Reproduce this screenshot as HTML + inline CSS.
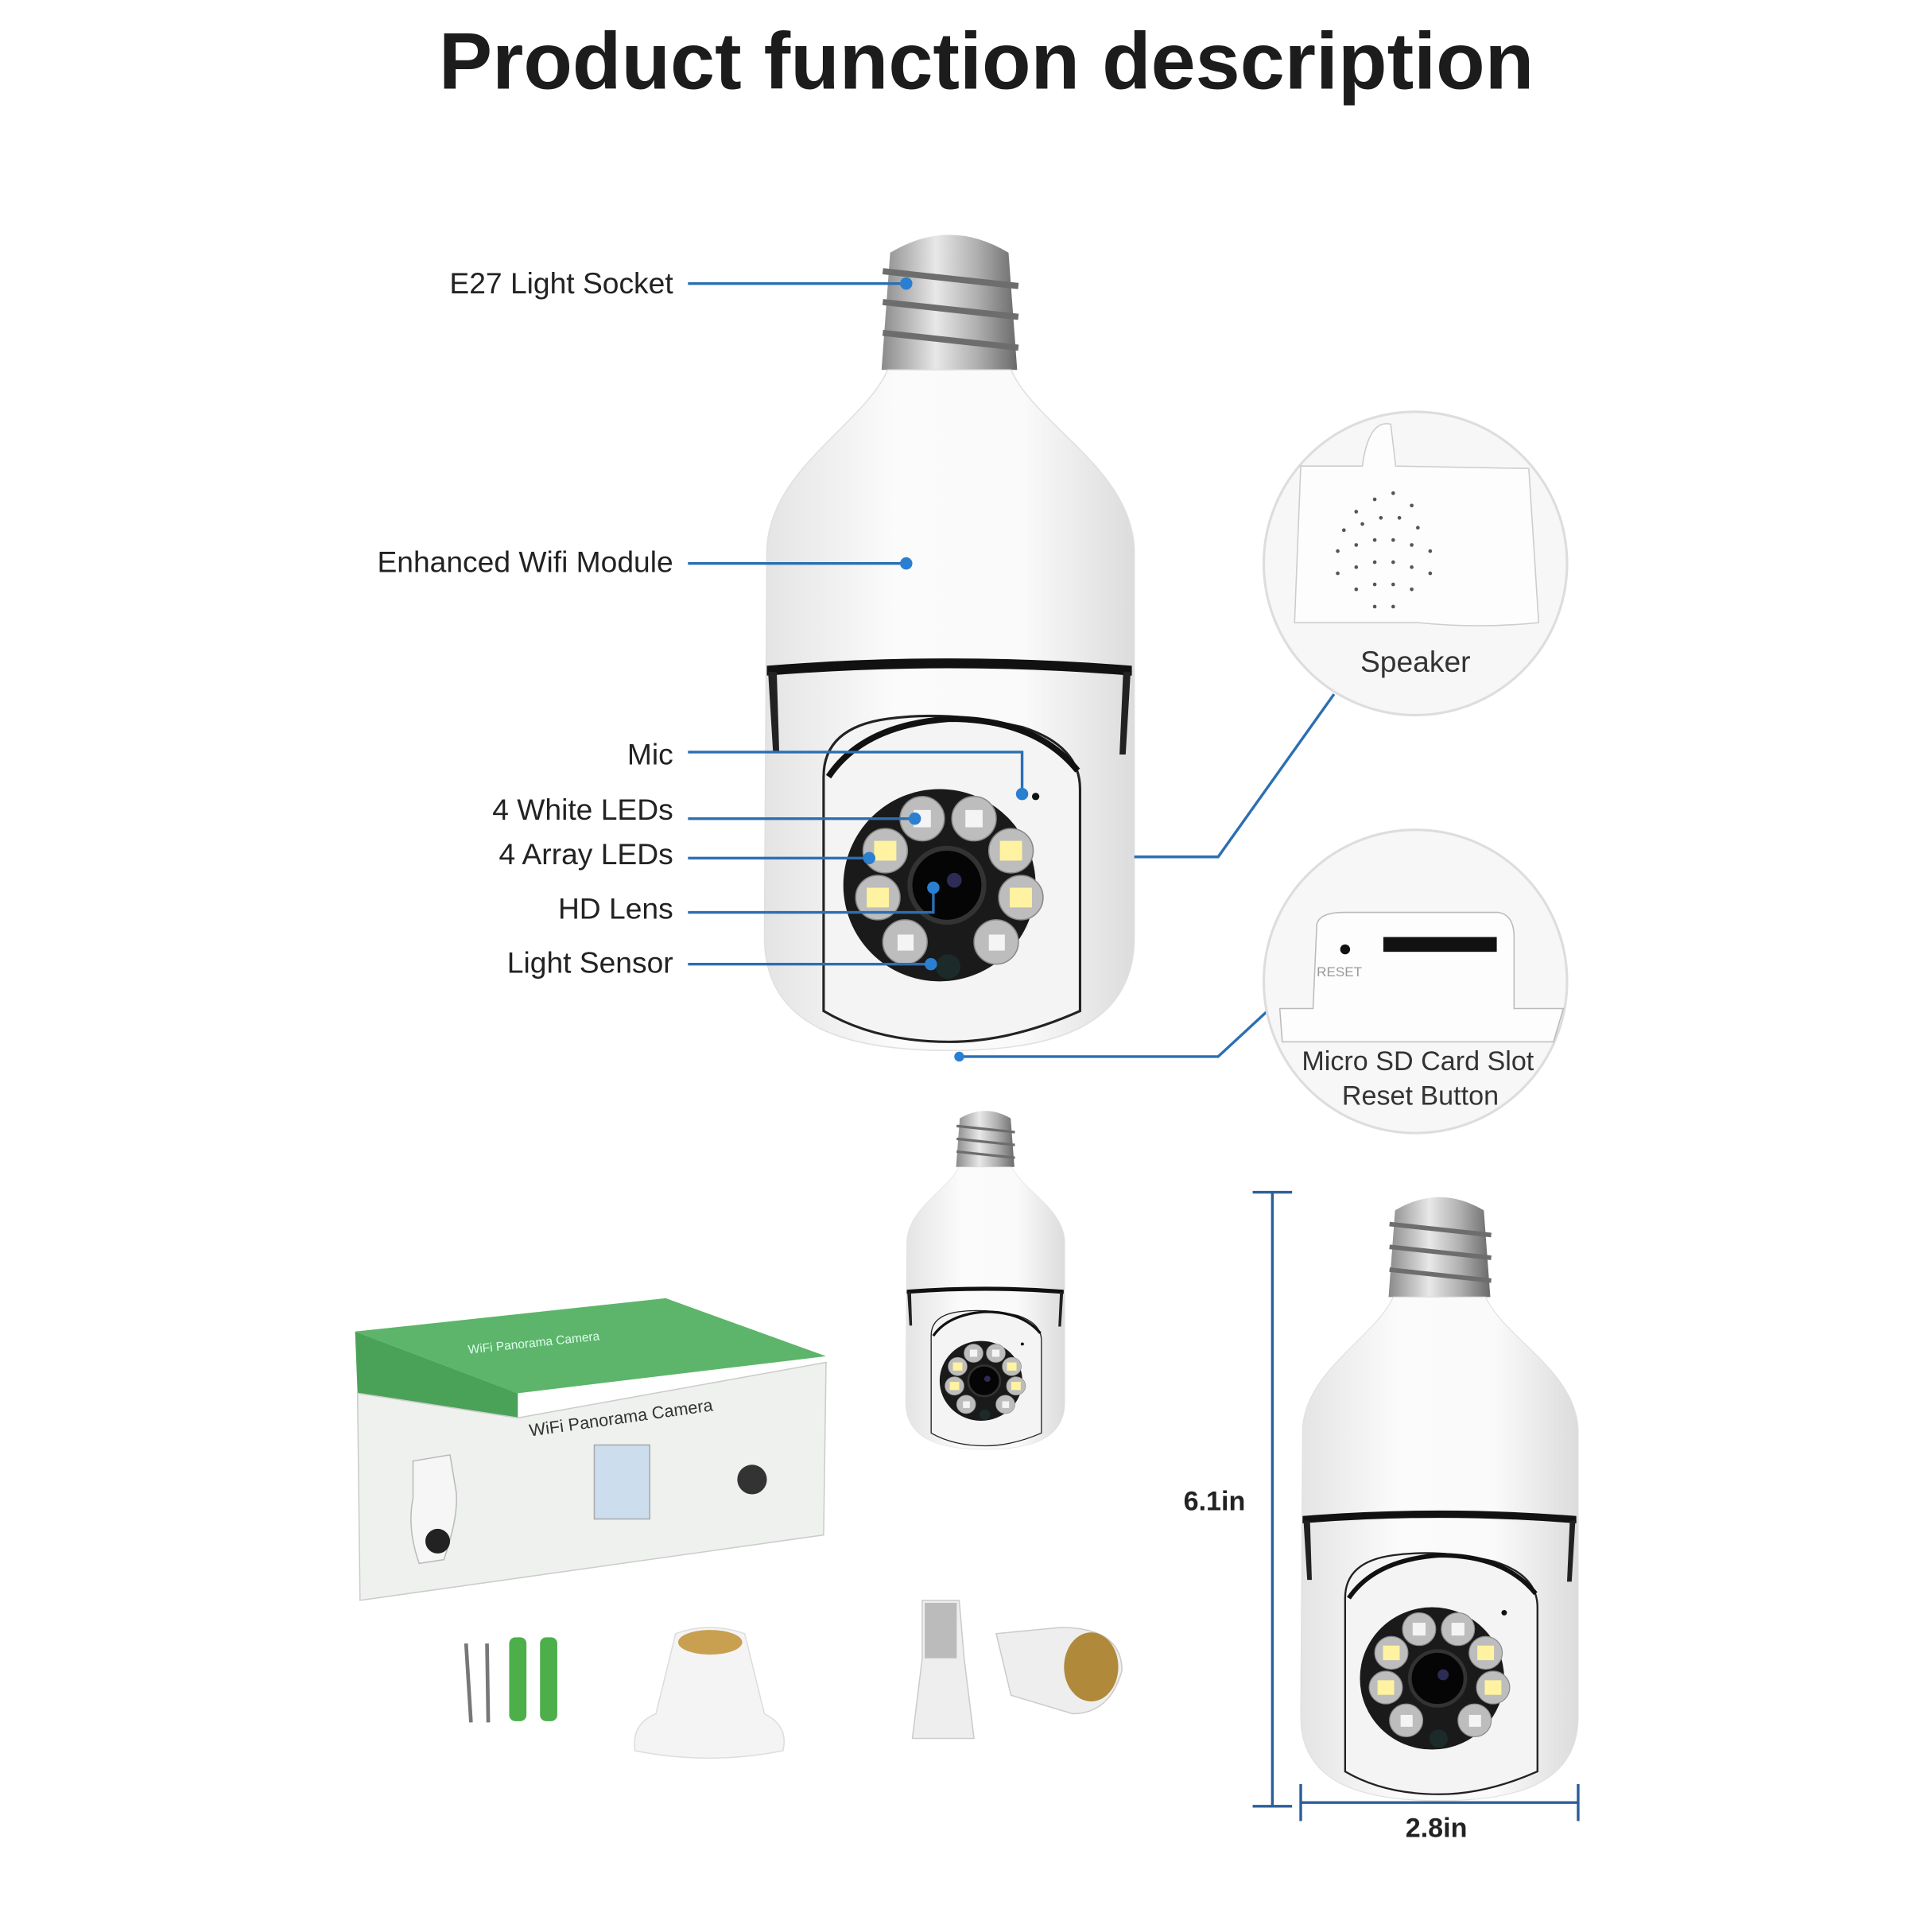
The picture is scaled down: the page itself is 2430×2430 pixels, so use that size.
<!DOCTYPE html>
<html><head><meta charset="utf-8"><style>
html,body{margin:0;padding:0;background:#fff;width:2430px;height:2430px;overflow:hidden}
svg{display:block}
text{font-family:"Liberation Sans",sans-serif}
</style></head><body>
<svg width="2430" height="2430" viewBox="0 0 1567 1567" xmlns="http://www.w3.org/2000/svg">
<defs>
<linearGradient id="body" x1="0" x2="1" y1="0" y2="0">
<stop offset="0" stop-color="#e4e4e4"/><stop offset="0.35" stop-color="#fbfbfb"/><stop offset="0.7" stop-color="#fafafa"/><stop offset="1" stop-color="#dcdcdc"/></linearGradient>
<linearGradient id="metal" x1="0" x2="1">
<stop offset="0" stop-color="#8a8a8a"/><stop offset="0.4" stop-color="#e8e8e8"/><stop offset="0.7" stop-color="#b0b0b0"/><stop offset="1" stop-color="#6a6a6a"/></linearGradient>
<g id="bulb">
 <path d="M722,205 Q770,176 818,205 L825,300 L715,300 Z" fill="url(#metal)"/>
 <g stroke="#6d6d6d" stroke-width="5" fill="none">
  <path d="M716,220 L826,232"/><path d="M716,245 L826,257"/><path d="M716,270 L826,282"/>
 </g>
 <path d="M720,300 C700,345 625,380 622,445 L620,760 C620,835 690,852 770,852 C850,852 920,835 920,760 L920,445 C917,380 840,345 820,300 Z" fill="url(#body)" stroke="#e0e0e0"/>
 <path d="M622,548 L622,540 Q770,528 918,540 L918,548 Q770,536 622,548 Z" fill="#111"/>
 <path d="M623,545 L627,610 L632,610 L630,545 Z M917,545 L913,612 L908,612 L911,545Z" fill="#222"/>
 <path d="M668,820 L668,630 Q668,590 720,583 Q770,576 830,590 Q876,605 876,640 L876,820 Q820,845 770,845 Q710,845 668,820 Z" fill="#f4f4f4" stroke="#222" stroke-width="2"/>
 <path d="M672,630 Q700,588 770,583 Q840,583 874,625" fill="none" stroke="#111" stroke-width="5"/>
 <circle cx="762" cy="718" r="78" fill="#1a1a1a"/>
 <circle cx="768" cy="718" r="30" fill="#050505" stroke="#333" stroke-width="4"/>
 <circle cx="774" cy="714" r="6" fill="#2c2c55"/>
 <g fill="#bdbdbd" stroke="#888">
  <circle cx="748" cy="664" r="18"/><circle cx="790" cy="664" r="18"/>
  <circle cx="718" cy="690" r="18"/><circle cx="820" cy="690" r="18"/>
  <circle cx="712" cy="728" r="18"/><circle cx="828" cy="728" r="18"/>
  <circle cx="734" cy="764" r="18"/><circle cx="808" cy="764" r="18"/>
 </g>
 <g fill="#fff2a0"><rect x="709" y="682" width="18" height="16"/><rect x="811" y="682" width="18" height="16"/><rect x="703" y="720" width="18" height="16"/><rect x="819" y="720" width="18" height="16"/></g>
 <g fill="#f4f4f4"><rect x="741" y="657" width="14" height="14"/><rect x="783" y="657" width="14" height="14"/><rect x="728" y="758" width="13" height="13"/><rect x="802" y="758" width="13" height="13"/></g>
 <circle cx="769" cy="784" r="10" fill="#1c2a2a"/>
 <circle cx="840" cy="646" r="3" fill="#111"/>
</g>
</defs>

<text x="800" y="72" text-anchor="middle" font-size="65" font-weight="bold" fill="#1c1c1c">Product function description</text>

<use href="#bulb"/>

<g font-size="24" fill="#222" text-anchor="end">
<text x="546" y="238">E27 Light Socket</text>
<text x="546" y="464">Enhanced Wifi Module</text>
<text x="546" y="620">Mic</text>
<text x="546" y="665">4 White LEDs</text>
<text x="546" y="701">4 Array LEDs</text>
<text x="546" y="745">HD Lens</text>
<text x="546" y="789">Light Sensor</text>
</g>
<g stroke="#2b6fb3" stroke-width="2.2" fill="none">
<path d="M558,230 L735,230"/><path d="M558,457 L735,457"/>
<path d="M558,610 L829,610 L829,644"/>
<path d="M558,664 L742,664"/><path d="M558,696 L705,696"/>
<path d="M558,740 L757,740 L757,720"/><path d="M558,782 L755,782"/>
<path d="M920,695 L988,695 L1082,563"/>
<path d="M778,857 L988,857 L1028,820"/>
</g>
<g fill="#2b7fd0"><circle cx="735" cy="230" r="5"/><circle cx="735" cy="457" r="5"/><circle cx="829" cy="644" r="5"/><circle cx="742" cy="664" r="5"/><circle cx="705" cy="696" r="5"/><circle cx="757" cy="720" r="5"/><circle cx="755" cy="782" r="5"/><circle cx="778" cy="857" r="4"/></g>

<circle cx="1148" cy="457" r="123" fill="#f7f7f7" stroke="#ddd" stroke-width="2"/>
<path d="M1055,378 L1105,378 Q1110,340 1128,344 L1132,378 L1240,380 L1248,505 Q1200,510 1150,505 L1050,505 Z" fill="#fdfdfd" stroke="#ccc"/>
<g fill="#555">
<circle cx="1100" cy="415" r="1.5"/><circle cx="1115" cy="405" r="1.5"/><circle cx="1130" cy="400" r="1.5"/><circle cx="1145" cy="410" r="1.5"/>
<circle cx="1090" cy="430" r="1.5"/><circle cx="1105" cy="425" r="1.5"/><circle cx="1120" cy="420" r="1.5"/><circle cx="1135" cy="420" r="1.5"/><circle cx="1150" cy="428" r="1.5"/>
<circle cx="1085" cy="447" r="1.5"/><circle cx="1100" cy="442" r="1.5"/><circle cx="1115" cy="438" r="1.5"/><circle cx="1130" cy="438" r="1.5"/><circle cx="1145" cy="442" r="1.5"/><circle cx="1160" cy="447" r="1.5"/>
<circle cx="1085" cy="465" r="1.5"/><circle cx="1100" cy="460" r="1.5"/><circle cx="1115" cy="456" r="1.5"/><circle cx="1130" cy="456" r="1.5"/><circle cx="1145" cy="460" r="1.5"/><circle cx="1160" cy="465" r="1.5"/>
<circle cx="1100" cy="478" r="1.5"/><circle cx="1115" cy="474" r="1.5"/><circle cx="1130" cy="474" r="1.5"/><circle cx="1145" cy="478" r="1.5"/>
<circle cx="1115" cy="492" r="1.5"/><circle cx="1130" cy="492" r="1.5"/>
</g>
<text x="1148" y="545" text-anchor="middle" font-size="24" fill="#333">Speaker</text>

<circle cx="1148" cy="796" r="123" fill="#f7f7f7" stroke="#ddd" stroke-width="2"/>
<path d="M1038,818 L1065,818 L1068,750 Q1070,740 1090,740 L1215,740 Q1228,742 1228,760 L1228,818 L1268,818 L1260,845 L1040,845 Z" fill="#fdfdfd" stroke="#bbb"/>
<circle cx="1091" cy="770" r="4" fill="#111"/>
<rect x="1122" y="760" width="92" height="12" fill="#111"/>
<text x="1068" y="792" font-size="11" fill="#999">RESET</text>
<text x="1150" y="868" text-anchor="middle" font-size="22" fill="#333">Micro SD Card Slot</text>
<text x="1152" y="896" text-anchor="middle" font-size="22" fill="#333">Reset Button</text>

<use href="#bulb" transform="translate(468,822) scale(0.43,0.415)"/>

<path d="M288,1080 L540,1053 L670,1100 L420,1130 Z" fill="#5cb56a"/>
<path d="M288,1080 L420,1130 L420,1160 L290,1130 Z" fill="#4aa258"/>
<path d="M290,1130 L420,1150 L670,1105 L668,1245 L292,1298 Z" fill="#eef1ee" stroke="#ccc"/>
<text x="430" y="1165" font-size="14" fill="#333" transform="rotate(-8 430 1165)">WiFi Panorama Camera</text>
<text x="380" y="1098" font-size="10" fill="#dfe" transform="rotate(-6 380 1098)">WiFi Panorama Camera</text>
<rect x="482" y="1172" width="45" height="60" fill="#cde" stroke="#aaa"/>
<path d="M335,1185 L365,1180 L370,1210 Q372,1230 360,1265 L340,1268 Q330,1240 335,1215 Z" fill="#f6f6f6" stroke="#bbb"/>
<circle cx="355" cy="1250" r="10" fill="#222"/>
<circle cx="610" cy="1200" r="12" fill="#333"/>

<g stroke="#777" stroke-width="3"><line x1="378" y1="1333" x2="382" y2="1397"/><line x1="395" y1="1333" x2="396" y2="1397"/></g>
<rect x="413" y="1328" width="14" height="68" rx="5" fill="#4caf4a"/>
<rect x="438" y="1328" width="14" height="68" rx="5" fill="#4caf4a"/>
<path d="M548,1325 Q576,1315 604,1325 L620,1390 Q640,1400 635,1420 Q575,1432 515,1420 Q512,1398 532,1390 Z" fill="#f4f4f4" stroke="#ddd"/>
<ellipse cx="576" cy="1332" rx="26" ry="10" fill="#c9a050"/>
<path d="M748,1298 L778,1298 L782,1345 L790,1410 L740,1410 L748,1345 Z" fill="#eee" stroke="#ccc"/>
<rect x="750" y="1300" width="26" height="45" fill="#bbb"/>
<path d="M808,1325 L860,1320 Q910,1320 910,1355 Q900,1390 870,1390 L820,1375 Z" fill="#eee" stroke="#ccc"/>
<ellipse cx="885" cy="1352" rx="22" ry="28" fill="#b08a3a"/>

<use href="#bulb" transform="translate(590,830) scale(0.75,0.74)"/>

<g stroke="#2b5f9a" stroke-width="2.2">
<line x1="1032" y1="967" x2="1032" y2="1465"/><line x1="1016" y1="967" x2="1048" y2="967"/><line x1="1016" y1="1465" x2="1048" y2="1465"/>
<line x1="1055" y1="1462" x2="1280" y2="1462"/><line x1="1055" y1="1447" x2="1055" y2="1477"/><line x1="1280" y1="1447" x2="1280" y2="1477"/>
</g>
<text x="985" y="1225" text-anchor="middle" font-size="22" font-weight="bold" fill="#222">6.1in</text>
<text x="1165" y="1490" text-anchor="middle" font-size="22" font-weight="bold" fill="#222">2.8in</text>
</svg>
</body></html>
